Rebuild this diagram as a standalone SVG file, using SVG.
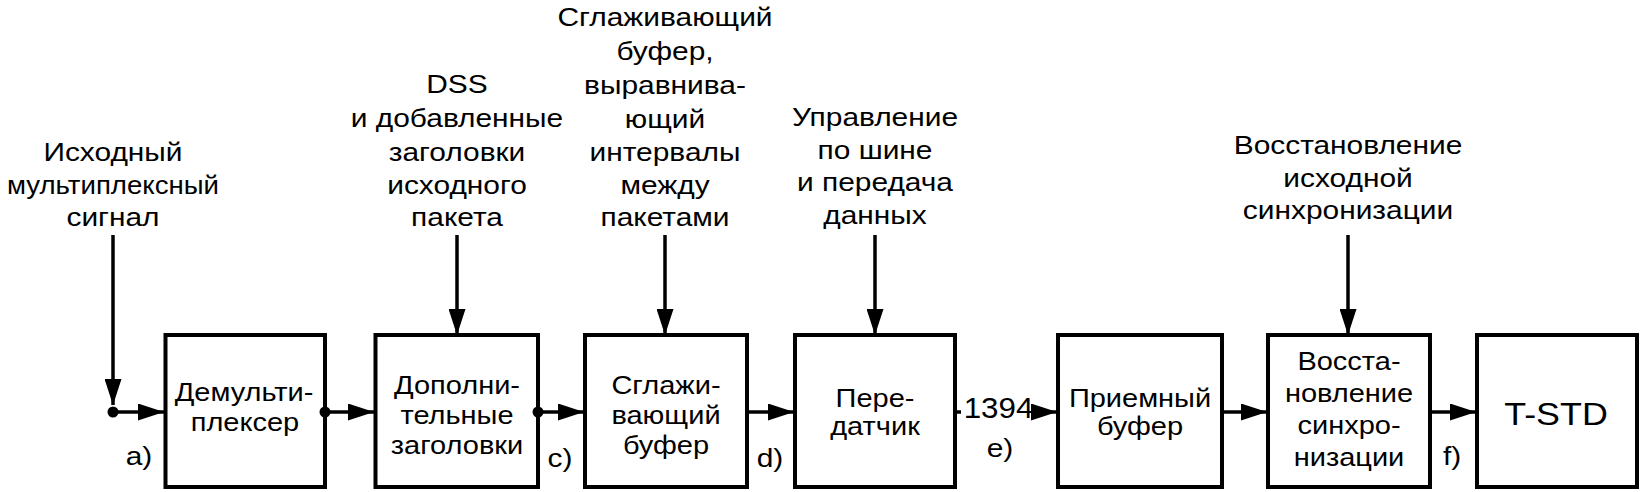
<svg xmlns="http://www.w3.org/2000/svg" width="1642" height="492" viewBox="0 0 1642 492">
<defs>
<marker id="ah" markerWidth="26" markerHeight="17" refX="26" refY="8.5" orient="auto" markerUnits="userSpaceOnUse">
<path d="M0,0 L26,8.5 L0,17 Z" fill="#000"/>
</marker>
<style>
.box{fill:#fff;stroke:#000;stroke-width:4}
.ln{fill:none;stroke:#000;stroke-width:3.5}
.t{font-family:"Liberation Sans",Arial,sans-serif;font-size:26px;text-anchor:middle;fill:#000}
.b{font-family:"Liberation Sans",Arial,sans-serif;font-size:25px;text-anchor:middle;fill:#000}
.big{font-size:32px}
.n{font-size:29px}
</style>
</defs>
<rect width="1642" height="492" fill="#fff"/>

<g id="labels-top">
<text class="t" transform="translate(113,161) scale(1.15,1)">Исходный</text>
<text class="t" x="113" y="194" textLength="212" lengthAdjust="spacingAndGlyphs">мультиплексный</text>
<text class="t" transform="translate(113,226) scale(1.15,1)">сигнал</text>

<text class="t" transform="translate(457,93) scale(1.15,1)">DSS</text>
<text class="t" transform="translate(457,127) scale(1.15,1)">и добавленные</text>
<text class="t" transform="translate(457,161) scale(1.15,1)">заголовки</text>
<text class="t" transform="translate(457,194) scale(1.15,1)">исходного</text>
<text class="t" transform="translate(457,226) scale(1.15,1)">пакета</text>

<text class="t" transform="translate(665,26) scale(1.15,1)">Сглаживающий</text>
<text class="t" transform="translate(665,60) scale(1.15,1)">буфер,</text>
<text class="t" transform="translate(665,94) scale(1.15,1)">выравнива-</text>
<text class="t" transform="translate(665,128) scale(1.15,1)">ющий</text>
<text class="t" transform="translate(665,161) scale(1.15,1)">интервалы</text>
<text class="t" transform="translate(665,194) scale(1.15,1)">между</text>
<text class="t" transform="translate(665,226) scale(1.15,1)">пакетами</text>

<text class="t" transform="translate(875,126) scale(1.15,1)">Управление</text>
<text class="t" transform="translate(875,159) scale(1.15,1)">по шине</text>
<text class="t" transform="translate(875,191) scale(1.15,1)">и передача</text>
<text class="t" transform="translate(875,224) scale(1.15,1)">данных</text>

<text class="t" transform="translate(1348,154) scale(1.15,1)">Восстановление</text>
<text class="t" transform="translate(1348,187) scale(1.15,1)">исходной</text>
<text class="t" transform="translate(1348,219) scale(1.15,1)">синхронизации</text>
</g>

<g id="node-demux">
<rect class="box" x="165.5" y="335" width="159.5" height="152"/>
<text class="b" transform="translate(244,401) scale(1.16,1)">Демульти-</text>
<text class="b" transform="translate(245,431) scale(1.16,1)">плексер</text>
</g>
<g id="node-headers">
<rect class="box" x="375.5" y="335" width="162.5" height="152"/>
<text class="b" transform="translate(457,394) scale(1.16,1)">Дополни-</text>
<text class="b" transform="translate(457,424) scale(1.16,1)">тельные</text>
<text class="b" transform="translate(457,454) scale(1.16,1)">заголовки</text>
</g>
<g id="node-smooth">
<rect class="box" x="585" y="335" width="162" height="152"/>
<text class="b" transform="translate(666,394) scale(1.16,1)">Сглажи-</text>
<text class="b" transform="translate(666,424) scale(1.16,1)">вающий</text>
<text class="b" transform="translate(666,454) scale(1.16,1)">буфер</text>
</g>
<g id="node-tx">
<rect class="box" x="795" y="335" width="160" height="152"/>
<text class="b" transform="translate(875,407) scale(1.16,1)">Пере-</text>
<text class="b" transform="translate(875,435) scale(1.16,1)">датчик</text>
</g>
<g id="node-rx">
<rect class="box" x="1058" y="335" width="164" height="152"/>
<text class="b" transform="translate(1140,407) scale(1.16,1)">Приемный</text>
<text class="b" transform="translate(1140,435) scale(1.16,1)">буфер</text>
</g>
<g id="node-restore">
<rect class="box" x="1268" y="335" width="162" height="152"/>
<text class="b" transform="translate(1349,370) scale(1.16,1)">Восста-</text>
<text class="b" transform="translate(1349,402) scale(1.16,1)">новление</text>
<text class="b" transform="translate(1349,434) scale(1.16,1)">синхро-</text>
<text class="b" transform="translate(1349,466) scale(1.16,1)">низации</text>
</g>
<g id="node-tstd">
<rect class="box" x="1477" y="335" width="160" height="152"/>
<text class="b big" transform="translate(1556,425) scale(1.12,1)">T-STD</text>
</g>

<g id="connectors">
<line class="ln" x1="113" y1="235" x2="113" y2="405" marker-end="url(#ah)"/>
<line class="ln" x1="457" y1="235" x2="457" y2="335" marker-end="url(#ah)"/>
<line class="ln" x1="665" y1="235" x2="665" y2="335" marker-end="url(#ah)"/>
<line class="ln" x1="875" y1="235" x2="875" y2="335" marker-end="url(#ah)"/>
<line class="ln" x1="1348" y1="235" x2="1348" y2="335" marker-end="url(#ah)"/>

<circle cx="113" cy="412" r="5.5" fill="#000"/>
<line class="ln" x1="113" y1="412" x2="164" y2="412" marker-end="url(#ah)"/>
<circle cx="325" cy="412" r="5.5" fill="#000"/>
<line class="ln" x1="325" y1="412" x2="374" y2="412" marker-end="url(#ah)"/>
<circle cx="538" cy="412" r="5.5" fill="#000"/>
<line class="ln" x1="538" y1="412" x2="584" y2="412" marker-end="url(#ah)"/>
<line class="ln" x1="747" y1="412" x2="794" y2="412" marker-end="url(#ah)"/>
<line class="ln" x1="955" y1="412" x2="961" y2="412"/>
<line class="ln" x1="1036" y1="412" x2="1057" y2="412" marker-end="url(#ah)"/>
<line class="ln" x1="1222" y1="412" x2="1267" y2="412" marker-end="url(#ah)"/>
<line class="ln" x1="1430" y1="412" x2="1476" y2="412" marker-end="url(#ah)"/>
</g>

<g id="point-labels">
<text class="t" transform="translate(139,465) scale(1.15,1)">a)</text>
<text class="t" transform="translate(560,467) scale(1.15,1)">c)</text>
<text class="t" transform="translate(770,467) scale(1.15,1)">d)</text>
<text class="t n" transform="translate(998.5,418) scale(1.08,1)">1394</text>
<text class="t" transform="translate(1000,457) scale(1.15,1)">e)</text>
<text class="t" transform="translate(1452,465) scale(1.15,1)">f)</text>
</g>
</svg>
